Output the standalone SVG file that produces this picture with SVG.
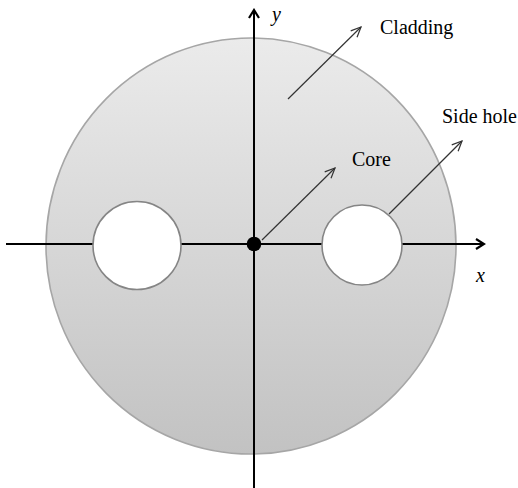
<svg xmlns="http://www.w3.org/2000/svg" width="518" height="488" viewBox="0 0 518 488">
<defs>
<linearGradient id="clad" x1="0" y1="0" x2="0" y2="1">
<stop offset="0" stop-color="#ebebeb"/>
<stop offset="1" stop-color="#c2c2c2"/>
</linearGradient>
<marker id="axisArrow" viewBox="0 0 12 12" refX="10" refY="6" markerWidth="12" markerHeight="12" markerUnits="userSpaceOnUse" orient="auto">
<path d="M2,1 L10,6 L2,11" fill="none" stroke="#000" stroke-width="2.2"/>
</marker>
<marker id="ptrArrow" viewBox="0 0 12 12" refX="11" refY="6" markerWidth="12" markerHeight="12" markerUnits="userSpaceOnUse" orient="auto">
<path d="M1,1.5 L11,6 L1,10.5" fill="none" stroke="#333" stroke-width="1.2"/>
</marker>
</defs>
<style>
.lbl{font-family:"Liberation Serif","Times New Roman",serif;font-size:20px;fill:#000}
.ax{font-family:"Liberation Serif","Times New Roman",serif;font-size:20px;font-style:italic;fill:#000}
.axis{stroke:#000;stroke-width:2;fill:none}
.ptr{stroke:#333;stroke-width:1.2;fill:none;marker-end:url(#ptrArrow)}
.hole{fill:#fff;stroke:#858585;stroke-width:1.6}
</style>
<g id="cladding">
<ellipse cx="251" cy="246" rx="205" ry="208" fill="url(#clad)" stroke="#a6a6a6" stroke-width="1.6"/>
</g>
<g id="connectors">
<line class="axis" x1="6" y1="244" x2="484" y2="244" marker-end="url(#axisArrow)"/>
<line class="axis" x1="254" y1="488" x2="254" y2="10" marker-end="url(#axisArrow)"/>
<line class="ptr" x1="288" y1="99" x2="361" y2="27"/>
<line class="ptr" x1="262" y1="240" x2="335" y2="168"/>
<line class="ptr" x1="389" y1="214" x2="462" y2="141"/>
</g>
<g id="left-hole"><circle class="hole" cx="137" cy="245.5" r="44"/></g>
<g id="right-hole"><circle class="hole" cx="362" cy="245" r="40"/></g>
<g id="core"><circle cx="254" cy="244" r="7.3" fill="#000"/></g>
<g id="labels">
<text class="ax" x="272" y="21">y</text>
<text class="ax" x="476" y="282">x</text>
<text class="lbl" x="380" y="34">Cladding</text>
<text class="lbl" x="352" y="166">Core</text>
<text class="lbl" x="442" y="123">Side hole</text>
</g>
</svg>
